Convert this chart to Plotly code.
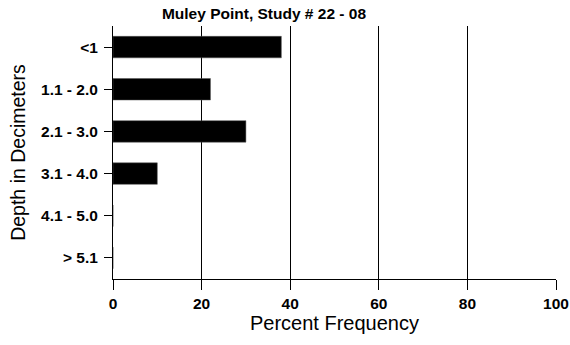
import plotly.graph_objects as go

categories = ["<1", "1.1 - 2.0", "2.1 - 3.0", "3.1 - 4.0", "4.1 - 5.0", "> 5.1"]
values = [38, 22, 30, 10, 0, 0]
x_ticks = [0, 20, 40, 60, 80, 100]

FONT = "Liberation Sans, Arial, sans-serif"

fig = go.Figure(go.Bar(
    y=categories, x=values, orientation="h",
    marker=dict(color="black", line=dict(color="#555555", width=0.5)),
    width=0.51,
))

fig.update_layout(
    width=570, height=345,
    margin=dict(l=113, r=14, t=26, b=66),
    paper_bgcolor="white", plot_bgcolor="white",
    showlegend=False,
    title=dict(text="<b>Muley Point, Study # 22 - 08</b>", x=(163 + 365) / 2 / 570, xanchor="center",
               y=1 - 14 / 345, yanchor="middle",
               font=dict(family=FONT, size=15.5, color="black")),
    font=dict(family=FONT, color="black"),
)

fig.update_xaxes(
    range=[0, 100], tickvals=x_ticks, ticktext=[f"<b>{v}</b>" for v in x_ticks],
    showgrid=True, gridcolor="black", gridwidth=1,
    showline=True, linecolor="black", linewidth=1,
    ticks="outside", ticklen=10, tickcolor="black",
    tickfont=dict(family=FONT, size=15.5, color="black"),
    title=dict(text="Percent Frequency", font=dict(family=FONT, size=20, color="black"), standoff=2),
    zeroline=False, automargin=False,
)
fig.update_yaxes(
    categoryorder="array", categoryarray=categories, autorange="reversed",
    range=[5.5, -0.5],
    ticktext=[f"<b>{c}</b>" for c in categories], tickvals=categories,
    showgrid=False, showline=True, linecolor="black", linewidth=1,
    ticks="outside", ticklen=8, tickcolor="black", ticklabelstandoff=3,
    tickfont=dict(family=FONT, size=15.5, color="black"),
    title=dict(text="Depth in Decimeters", font=dict(family=FONT, size=19.5, color="black"), standoff=10),
    automargin=False,
)

fig.write_html("out.html", config={"displayModeBar": False},
               post_script="document.body.style.margin='0';")
